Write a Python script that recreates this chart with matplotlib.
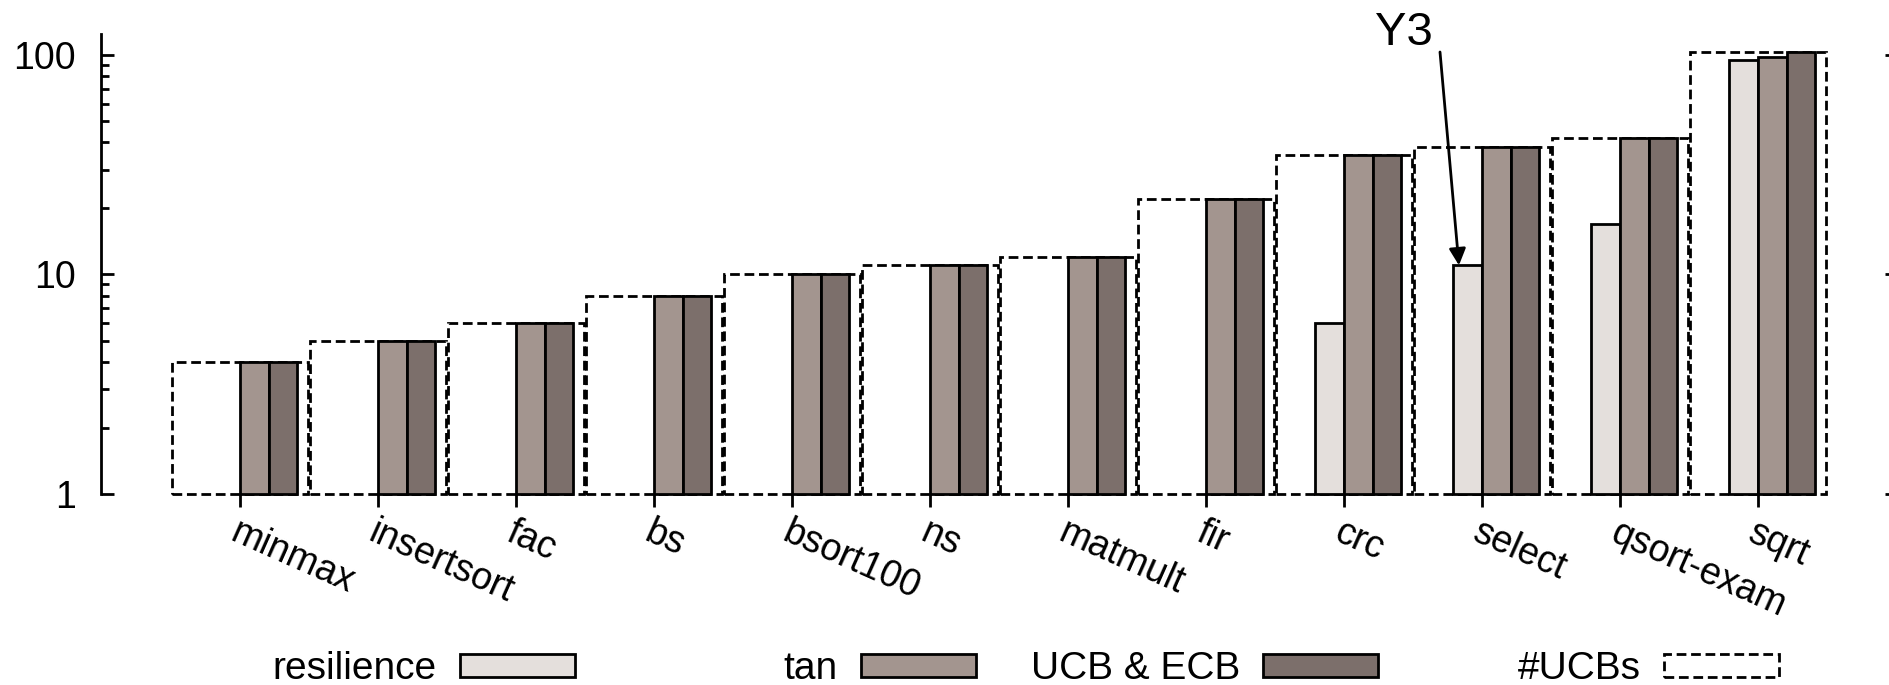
import numpy as np
import matplotlib.pyplot as plt
from matplotlib.patches import Patch

plt.rcParams['font.family'] = ['Liberation Sans', 'DejaVu Sans']

# benchmark names and values (log scale)
benchmarks = ['minmax', 'insertsort', 'fac', 'bs', 'bsort100', 'ns',
              'matmult', 'fir', 'crc', 'select', 'qsort-exam', 'sqrt']
resilience = [0, 0, 0, 0, 0, 0, 0, 0, 6, 11, 17, 95]
tan = [4, 5, 6, 8, 10, 11, 12, 22, 35, 38, 42, 98]
ucb_ecb = [4, 5, 6, 8, 10, 11, 12, 22, 35, 38, 42, 103]
n_ucbs = [4, 5, 6, 8, 10, 11, 12, 22, 35, 38, 42, 103]

c_res = '#e4dfdc'
c_tan = '#a3958f'
c_ucb = '#7c6f6b'
box_dash = (0, (3.5, 1.7))
lw = 2.0

W, H = 1890, 685
fig = plt.figure(figsize=(W / 100, H / 100), dpi=100)
ax = fig.add_axes([101 / W, 1 - 494 / H, (1885 - 101) / W, (494 - 34) / H])

x = np.arange(len(benchmarks))
bw = 0.207

# #UCBs outline boxes behind the bars
ucbs = np.array(n_ucbs, dtype=float)
ax.bar(x, ucbs - 1, bottom=1, width=0.985, facecolor='white', edgecolor='black',
       linewidth=lw, linestyle=box_dash, zorder=1, clip_on=False)

res = np.array(resilience, dtype=float)
res[res <= 0] = np.nan
ax.bar(x - bw / 2, res - 1, bottom=1, width=bw, facecolor=c_res,
       edgecolor='black', linewidth=lw, zorder=2, clip_on=False)
ax.bar(x + bw / 2, np.array(tan) - 1, bottom=1, width=bw, facecolor=c_tan,
       edgecolor='black', linewidth=lw, zorder=2, clip_on=False)
ax.bar(x + 1.5 * bw, np.array(ucb_ecb) - 1, bottom=1, width=bw, facecolor=c_ucb,
       edgecolor='black', linewidth=lw, zorder=2, clip_on=False)

ax.set_yscale('log')
ax.set_ylim(1, 10 ** 2.095)
ax.set_xlim(-(240 - 101) / 138, (1885 - 240) / 138)

for s in ['top', 'right', 'bottom']:
    ax.spines[s].set_visible(False)
ax.spines['left'].set_linewidth(lw)

ax.set_yticks([1, 10, 100])
ax.set_yticklabels(['1', '10', '100'])
ax.tick_params(axis='y', which='major', direction='in', length=9.5, width=lw,
               labelsize=27, pad=18, right=False)
ax.tick_params(axis='y', which='minor', direction='in', length=6, width=lw,
               right=False, labelleft=False)

ax.set_xticks(x)
ax.set_xticklabels(benchmarks, rotation=-24, ha='left', va='top',
                   rotation_mode='anchor')
ax.tick_params(axis='x', direction='out', length=9, width=lw, labelsize=27, pad=6)

# short ticks on the right side
sec = ax.secondary_yaxis('right')
sec.spines['right'].set_visible(False)
sec.set_yticks([1, 10, 100])
sec.yaxis.set_minor_locator(plt.NullLocator())
sec.tick_params(axis='y', direction='out', length=3, width=2, labelright=False)

# Y3 annotation
fig.text(1404 / W, 1 - 33 / H, 'Y3', fontsize=34, ha='center', va='center')
ax.annotate('', xy=(9 - bw + 0.04, 11), xycoords='data',
            xytext=(1440 / W, 1 - 52 / H), textcoords='figure fraction',
            arrowprops=dict(arrowstyle='-|>', lw=2, color='black',
                            mutation_scale=25, shrinkA=0, shrinkB=0),
            annotation_clip=False)

# legend items, each placed by its right edge
items = [
    ('resilience', Patch(facecolor=c_res, edgecolor='black', linewidth=lw), 575),
    ('tan', Patch(facecolor=c_tan, edgecolor='black', linewidth=lw), 976),
    ('UCB & ECB', Patch(facecolor=c_ucb, edgecolor='black', linewidth=lw), 1378),
    ('#UCBs', Patch(facecolor='white', edgecolor='black', linewidth=lw,
                    linestyle=box_dash), 1779),
]
for label, handle, xr in items:
    fig.legend(handles=[handle], labels=[label], loc='center right',
               bbox_to_anchor=(xr / W, 1 - 669 / H), markerfirst=False,
               frameon=False, fontsize=28, handlelength=2.95, handleheight=0.55,
               handletextpad=0.6, borderpad=0, borderaxespad=0)

fig.savefig('out.png', dpi=100)
